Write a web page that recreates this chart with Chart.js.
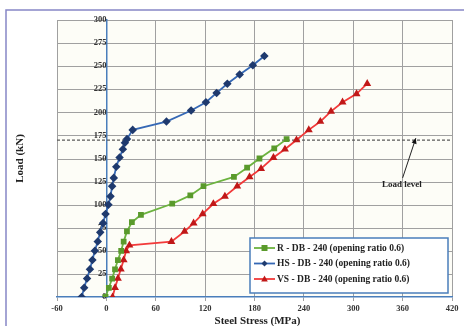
<!DOCTYPE html>
<html>
<head>
<meta charset="utf-8">
<script src="https://cdn.jsdelivr.net/npm/chart.js@4.4.0/dist/chart.umd.min.js"></script>
<style>
  html, body { margin: 0; padding: 0; background: #ffffff; }
  #wrap { width: 464px; height: 326px; }
</style>
</head>
<body>
<div id="wrap"><canvas id="stressChart" width="464" height="326"></canvas></div>
<script>
// Datos (tension del acero en MPa, carga en kN)
const rStress = [-1, 3, 7, 10.5, 14, 18, 21, 25, 31, 42, 80, 102, 118, 155, 171, 186, 204, 219];
const rLoad   = [0, 10, 20, 30, 40, 50, 60, 71, 81, 89, 101, 110, 120, 130, 140, 150, 161, 171];

const hsStress = [-30, -27, -23.5, -20, -17, -14, -10.5, -7.5, -4, -1, 2.5, 5, 7, 9, 12, 16, 20, 22.5, 25, 32, 73, 103, 121, 134, 147, 162, 178, 192];
const hsLoad   = [0, 10, 20, 30, 40, 50, 60, 70, 80, 90, 100, 109, 120, 129, 141, 151, 160, 167, 171, 181, 190, 202, 211, 221, 231, 241, 251, 261];

const vsStress = [7.5, 10.5, 14, 17.5, 21, 24, 28, 79, 95, 106, 117, 130, 144, 159, 174, 188, 203, 217, 231, 246, 260, 273, 287, 304, 317];
const vsLoad   = [0, 10, 20, 30, 40, 50, 56, 60, 71, 80, 90, 101, 109, 120, 130, 139, 151, 160, 170, 181, 190, 201, 211, 220, 231];

const seriesLabels = [
    'R - DB - 240 (opening ratio 0.6)',
    'HS - DB - 240 (opening ratio 0.6)',
    'VS - DB - 240 (opening ratio 0.6)'
];
const loadLevel = 170;
const loadLevelText = 'Load level';
const xTitle = 'Steel Stress (MPa)';
const yTitle = 'Load (kN)';

// Colores
const colors = {
    rLine: '#6cb33f',
    rPoint: '#5a9a2c',
    hsLine: '#3568b5',
    hsPoint: '#1f3a6e',
    vsLine: '#f23a3a',
    vsPoint: '#c01818',
    grid: '#a0a0a0',
    axis: '#4a7ebb',
    text: '#333333'
};

const serif = '"Liberation Serif", "DejaVu Serif", serif';

function toPoints(xs, ys) {
    return xs.map((x, i) => ({ x: x, y: ys[i] }));
}

// Fondo, marco, rejilla horizontal, titulos, leyenda y anotacion
const decorPlugin = {
    id: 'decor',
    beforeDraw(chart) {
        const c = chart.ctx;
        const a = chart.chartArea;
        const ys = chart.scales.yAxis;
        c.save();
        c.fillStyle = '#ffffff';
        c.fillRect(0, 0, chart.width, chart.height);
        c.strokeStyle = '#8686c6';
        c.lineWidth = 1.5;
        c.strokeRect(6, 10, 600, 400);
        c.fillStyle = '#fdfdf7';
        c.fillRect(a.left, a.top, a.right - a.left, a.bottom - a.top);
        // rejilla horizontal a partir de los ticks del eje
        c.fillStyle = colors.grid;
        ys.ticks.forEach(t => {
            const py = Math.round(ys.getPixelForValue(t.value));
            if (py > a.bottom - 1) return;
            c.fillRect(a.left, py, a.right - a.left, 1);
        });
        c.restore();
    },
    afterDraw(chart) {
        const c = chart.ctx;
        const a = chart.chartArea;
        const xs = chart.scales.x;
        const ys = chart.scales.y;
        c.save();

        // titulos de ejes
        c.fillStyle = '#222';
        c.font = 'bold 11px ' + serif;
        c.textAlign = 'center';
        c.textBaseline = 'middle';
        c.fillText(xTitle, (a.left + a.right) / 2 + 3, 321);
        c.translate(20, (a.top + a.bottom) / 2);
        c.rotate(-Math.PI / 2);
        c.fillText(yTitle, 0, 0);
        c.setTransform(1, 0, 0, 1, 0, 0);

        // flecha "Load level"
        const x1 = xs.getPixelForValue(360), y1 = ys.getPixelForValue(129);
        const x2 = xs.getPixelForValue(376), y2 = ys.getPixelForValue(loadLevel + 2);
        c.strokeStyle = '#222';
        c.lineWidth = 1;
        c.beginPath();
        c.moveTo(x1, y1);
        c.lineTo(x2, y2);
        c.stroke();
        const ang = Math.atan2(y2 - y1, x2 - x1);
        c.fillStyle = '#111';
        c.beginPath();
        c.moveTo(x2, y2);
        c.lineTo(x2 - 6 * Math.cos(ang - 0.45), y2 - 6 * Math.sin(ang - 0.45));
        c.lineTo(x2 - 6 * Math.cos(ang + 0.45), y2 - 6 * Math.sin(ang + 0.45));
        c.closePath();
        c.fill();
        c.font = 'bold 9px ' + serif;
        c.fillStyle = '#222';
        c.fillText(loadLevelText, xs.getPixelForValue(359), ys.getPixelForValue(122));

        // leyenda
        const bx = 250, by = 238, bw = 198, bh = 55;
        c.fillStyle = '#ffffff';
        c.fillRect(bx, by, bw, bh);
        c.strokeStyle = colors.axis;
        c.lineWidth = 1.5;
        c.strokeRect(bx, by, bw, bh);
        const rows = [248, 263.5, 279];
        chart.data.datasets.slice(0, 3).forEach((ds, i) => {
            const yy = rows[i];
            c.strokeStyle = ds.borderColor;
            c.lineWidth = 1.8;
            c.beginPath();
            c.moveTo(254, yy);
            c.lineTo(275, yy);
            c.stroke();
            c.fillStyle = ds.pointBackgroundColor;
            drawMarker(c, ds.pointStyle, 264.5, yy, 3);
            c.fillStyle = '#222';
            c.font = 'bold 9.5px ' + serif;
            c.textAlign = 'left';
            c.fillText(seriesLabels[i], 277, yy + 0.5);
        });
        c.restore();
    }
};

function drawMarker(c, style, x, y, r) {
    c.beginPath();
    if (style === 'rect') {
        c.rect(x - r, y - r, 2 * r, 2 * r);
    } else if (style === 'triangle') {
        c.moveTo(x, y - r * 1.2);
        c.lineTo(x + r * 1.1, y + r * 0.8);
        c.lineTo(x - r * 1.1, y + r * 0.8);
        c.closePath();
    } else {
        c.moveTo(x, y - r);
        c.lineTo(x + r, y);
        c.lineTo(x, y + r);
        c.lineTo(x - r, y);
        c.closePath();
    }
    c.fill();
}

const tickFont = { family: serif, weight: 'bold', size: 8.5 };

const ctx = document.getElementById('stressChart').getContext('2d');
const stressChart = new Chart(ctx, {
    type: 'line',
    data: {
        datasets: [{
            label: seriesLabels[0],
            data: toPoints(rStress, rLoad),
            borderColor: colors.rLine,
            backgroundColor: colors.rPoint,
            pointBackgroundColor: colors.rPoint,
            pointBorderColor: colors.rPoint,
            pointStyle: 'rect',
            pointRadius: 2.8,
            borderWidth: 1.8,
            tension: 0
        }, {
            label: seriesLabels[1],
            data: toPoints(hsStress, hsLoad),
            borderColor: colors.hsLine,
            backgroundColor: colors.hsPoint,
            pointBackgroundColor: colors.hsPoint,
            pointBorderColor: colors.hsPoint,
            pointStyle: 'rectRot',
            pointRadius: 3,
            borderWidth: 1.8,
            tension: 0
        }, {
            label: seriesLabels[2],
            data: toPoints(vsStress, vsLoad),
            borderColor: colors.vsLine,
            backgroundColor: colors.vsPoint,
            pointBackgroundColor: colors.vsPoint,
            pointBorderColor: colors.vsPoint,
            pointStyle: 'triangle',
            pointRadius: 2.8,
            borderWidth: 1.8,
            tension: 0
        }, {
            label: loadLevelText,
            data: [{ x: -60, y: loadLevel }, { x: 420, y: loadLevel }],
            borderColor: '#5a5a5a',
            borderWidth: 1.3,
            borderDash: [3, 2],
            pointRadius: 0,
            order: 5
        }]
    },
    options: {
        responsive: false,
        animation: false,
        devicePixelRatio: 1,
        layout: {
            padding: { left: 57, right: 12, top: 20, bottom: 0 }
        },
        plugins: {
            legend: { display: false },
            tooltip: { enabled: false }
        },
        scales: {
            x: {
                type: 'linear',
                position: 'bottom',
                min: -60,
                max: 420,
                afterFit: function(scale) { scale.height = 29; },
                ticks: {
                    stepSize: 60,
                    padding: 3,
                    color: colors.text,
                    font: tickFont
                },
                grid: {
                    color: colors.grid,
                    lineWidth: 1,
                    tickLength: 4
                },
                border: { color: colors.axis, width: 1.5 }
            },
            y: {
                type: 'linear',
                position: 'left',
                min: 0,
                max: 300,
                display: false
            },
            // eje con etiquetas cruzando en x = 0
            yAxis: {
                type: 'linear',
                axis: 'y',
                position: { x: 0 },
                min: 0,
                max: 300,
                ticks: {
                    stepSize: 25,
                    padding: 5,
                    color: colors.text,
                    font: tickFont
                },
                grid: {
                    color: colors.grid,
                    drawOnChartArea: false,
                    tickLength: 4
                },
                border: { color: colors.axis, width: 1.5 }
            }
        }
    },
    plugins: [decorPlugin]
});
</script>
</body>
</html>
